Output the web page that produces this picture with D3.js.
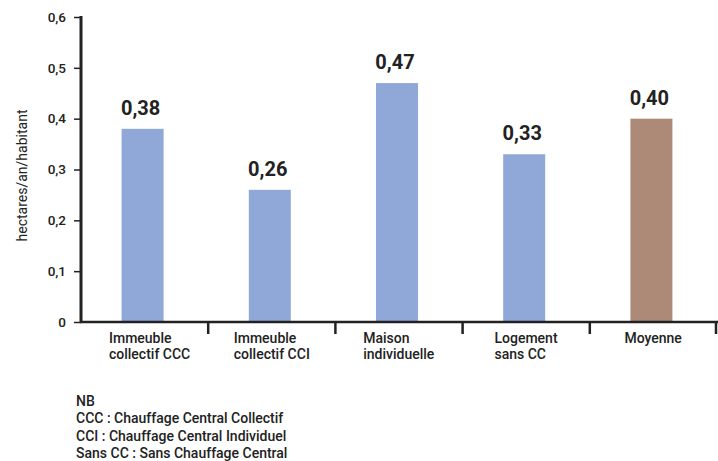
<!DOCTYPE html>
<html>
<head>
<meta charset="utf-8">
<script src="https://cdn.jsdelivr.net/npm/d3@7"></script>
<style>
  html, body { margin: 0; padding: 0; background: #fff; }
  svg { display: block; font-family: Roboto, "DejaVu Sans", sans-serif; }
</style>
</head>
<body>
<svg id="chart" width="718" height="461"></svg>
<script>
// Consommation d'espace par type de logement
const categories = [
  ["Immeuble", "collectif CCC"],
  ["Immeuble", "collectif CCI"],
  ["Maison", "individuelle"],
  ["Logement", "sans CC"],
  ["Moyenne"]
];
const values = [0.38, 0.26, 0.47, 0.33, 0.40];
const valueLabels = ["0,38", "0,26", "0,47", "0,33", "0,40"];
const yTicks = [0, 0.1, 0.2, 0.3, 0.4, 0.5, 0.6];
const yTickLabels = ["0", "0,1", "0,2", "0,3", "0,4", "0,5", "0,6"];
const yTitle = "hectares/an/habitant";
const notes = [
  "NB",
  "CCC : Chauffage Central Collectif",
  "CCI : Chauffage Central Individuel",
  "Sans CC : Sans Chauffage Central"
];

const svg = d3.select("#chart");
const margin = { left: 81, right: 1, top: 17, bottom: 139 };
const W = 718, H = 461;
const axisColor = "#222";
const textColor = "#222";

const x = d3.scaleBand()
  .domain(d3.range(categories.length))
  .range([margin.left, W - margin.right])
  .paddingInner(0).paddingOuter(0);
const y = d3.scaleLinear().domain([0, 0.6]).range([H - margin.bottom, margin.top]);
const barW = 42;

// bars
svg.append("g").selectAll("rect")
  .data(values)
  .join("rect")
  .attr("x", (d, i) => x(i) + x.bandwidth() / 2 - barW / 2 - 2)
  .attr("y", d => y(d))
  .attr("width", barW)
  .attr("height", d => y(0) - y(d))
  .attr("fill", (d, i) => i === values.length - 1 ? "#AD8A77" : "#8FA8D8");

// value labels
svg.append("g").selectAll("text")
  .data(values)
  .join("text")
  .attr("x", (d, i) => x(i) + x.bandwidth() / 2 - 4)
  .attr("y", d => y(d) - 14)
  .attr("text-anchor", "middle")
  .attr("font-size", 20)
  .attr("font-weight", "bold")
  .attr("fill", textColor)
  .text((d, i) => valueLabels[i]);

// y axis
const yAxis = d3.axisLeft(y)
  .tickValues(yTicks)
  .tickFormat((d, i) => yTickLabels[i])
  .tickSize(7)
  .tickPadding(8);
const gy = svg.append("g")
  .attr("transform", `translate(${margin.left},0)`)
  .call(yAxis);
gy.select(".domain").remove();
gy.selectAll(".tick line").attr("stroke", axisColor).attr("stroke-width", 1.5);
gy.selectAll(".tick text")
  .attr("font-size", 13.5)
  .attr("font-weight", 500)
  .attr("fill", textColor)
  .attr("font-family", "Roboto, sans-serif");
gy.append("line")
  .attr("x1", 0).attr("x2", 0)
  .attr("y1", y(0.6) - 1).attr("y2", y(0) + 1)
  .attr("stroke", axisColor).attr("stroke-width", 3);

// x axis line and separators between categories
const gx = svg.append("g");
gx.append("line")
  .attr("x1", margin.left - 1).attr("x2", W)
  .attr("y1", y(0)).attr("y2", y(0))
  .attr("stroke", axisColor).attr("stroke-width", 2.5);
gx.selectAll("line.sep")
  .data(d3.range(1, categories.length + 1))
  .join("line")
  .attr("class", "sep")
  .attr("x1", i => Math.min(x(i - 1) + x.bandwidth(), W - 2))
  .attr("x2", i => Math.min(x(i - 1) + x.bandwidth(), W - 2))
  .attr("y1", y(0)).attr("y2", y(0) + 12)
  .attr("stroke", axisColor).attr("stroke-width", 2.5);

// category labels: left-aligned block centred under each bar
categories.forEach((lines, i) => {
  const g = svg.append("g");
  const t = g.append("text")
    .attr("font-size", 14)
    .attr("font-weight", 500)
    .attr("fill", textColor);
  lines.forEach((ln, j) => {
    t.append("tspan").attr("x", 0).attr("y", 343 + j * 16).text(ln);
  });
  const w = t.node().getBBox().width;
  const cx = x(i) + x.bandwidth() / 2 - 2 + (i === 0 ? 7 : 2);
  g.attr("transform", `translate(${cx - w / 2},0)`);
});

// y axis title
svg.append("text")
  .attr("transform", `translate(27,${(y(0) + y(0.6)) / 2 + 6}) rotate(-90)`)
  .attr("text-anchor", "middle")
  .attr("font-size", 14)
  .attr("fill", textColor)
  .text(yTitle);

// notes
svg.append("g").selectAll("text")
  .data(notes)
  .join("text")
  .attr("x", 76)
  .attr("y", (d, i) => 406 + i * 17.3)
  .attr("font-size", 14)
  .attr("font-weight", 500)
  .attr("fill", textColor)
  .text(d => d);
</script>
</body>
</html>
